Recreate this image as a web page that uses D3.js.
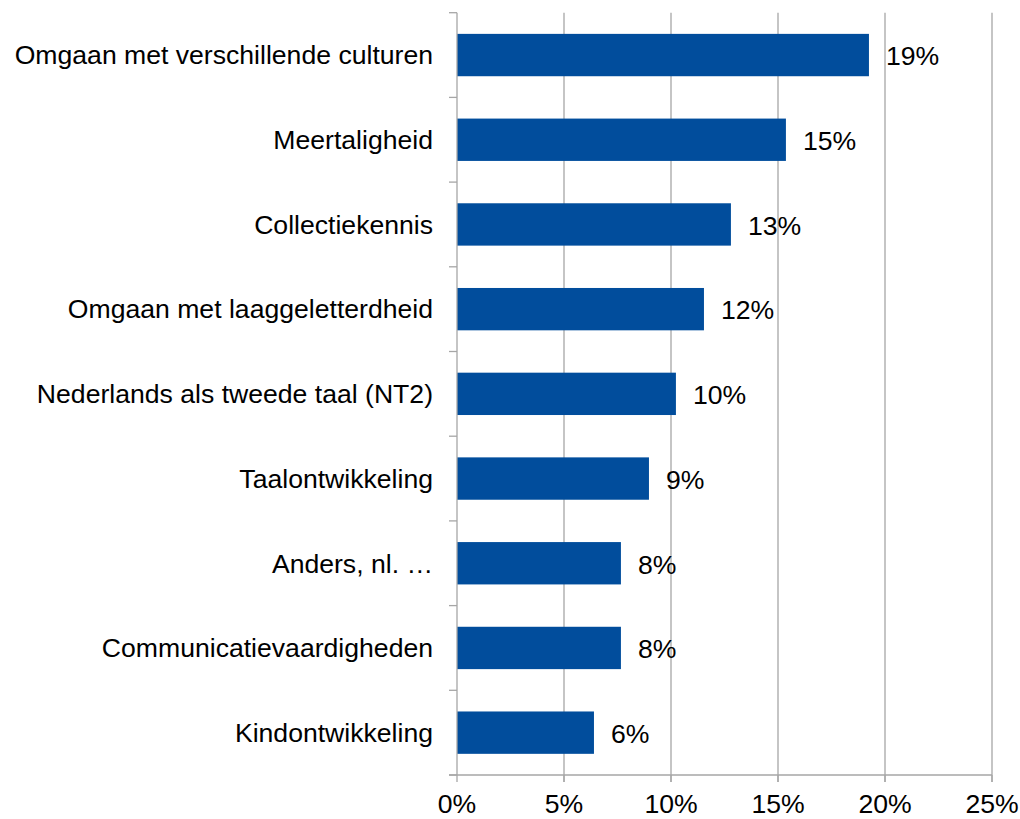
<!DOCTYPE html>
<html><head><meta charset="utf-8">
<script src="https://cdn.jsdelivr.net/npm/d3@7"></script>
<style>body{margin:0;background:#fff;} svg{display:block;font-family:"Liberation Sans",Arial,sans-serif;}</style>
</head><body>
<svg id="c" width="1020" height="819"></svg>
<script>
const categories = ["Omgaan met verschillende culturen","Meertaligheid","Collectiekennis","Omgaan met laaggeletterdheid","Nederlands als tweede taal (NT2)","Taalontwikkeling","Anders, nl. …","Communicatievaardigheden","Kindontwikkeling"];
const values = [19.25, 15.37, 12.8, 11.54, 10.23, 8.97, 7.66, 7.66, 6.4];
const valueLabels = ["19%","15%","13%","12%","10%","9%","8%","8%","6%"];
const xTicks = [0,5,10,15,20,25];

const svg = d3.select("#c");
const m = {left:457, right:992, top:12.7, bottom:775};
const x = d3.scaleLinear().domain([0,25]).range([m.left, m.right]);
const y = d3.scaleBand().domain(categories).range([m.top, m.bottom]).paddingInner(0.5).paddingOuter(0.25);
const yOuter = d3.scaleBand().domain(categories).range([m.top, m.bottom]);
const FS = 26.6;

// gridlines
svg.append("g").selectAll("line").data(xTicks.slice(1)).join("line")
  .attr("x1", d=>x(d)).attr("x2", d=>x(d)).attr("y1", m.top).attr("y2", m.bottom+7)
  .attr("stroke","#a6a6a6").attr("stroke-width",1.3);

// bars
svg.append("g").selectAll("rect").data(values).join("rect")
  .attr("x", x(0)).attr("y", (d,i)=>y(categories[i]))
  .attr("width", d=>x(d)-x(0)).attr("height", y.bandwidth())
  .attr("fill","#014d9c");

// left axis
const ya = svg.append("g");
ya.append("line").attr("x1",m.left).attr("x2",m.left).attr("y1",m.top).attr("y2",m.bottom).attr("stroke","#a6a6a6").attr("stroke-width",1.3);
const bounds = categories.map(c=>yOuter(c)).concat([m.bottom]);
ya.selectAll("line.t").data(bounds).join("line").attr("class","t")
  .attr("x1",m.left-8).attr("x2",m.left).attr("y1",d=>d).attr("y2",d=>d)
  .attr("stroke","#a6a6a6").attr("stroke-width",1.3);
ya.selectAll("text").data(categories).join("text")
  .attr("x", m.left-24).attr("y", d=>yOuter(d)+yOuter.bandwidth()/2)
  .attr("dy","0.35em").attr("text-anchor","end").attr("font-size",FS).attr("fill","#000")
  .text(d=>d);

// bottom axis
const xa = svg.append("g");
xa.append("line").attr("x1",m.left-8).attr("x2",m.right).attr("y1",m.bottom).attr("y2",m.bottom).attr("stroke","#a6a6a6").attr("stroke-width",1.3);
xa.selectAll("line.t").data(xTicks).join("line").attr("class","t")
  .attr("x1",d=>x(d)).attr("x2",d=>x(d)).attr("y1",m.bottom).attr("y2",m.bottom+7)
  .attr("stroke","#a6a6a6").attr("stroke-width",1.3);
xa.selectAll("text").data(xTicks).join("text")
  .attr("x",d=>x(d)).attr("y",804).attr("dy","0.35em").attr("text-anchor","middle")
  .attr("font-size",FS).attr("fill","#000").text(d=>d+"%");

// value labels
svg.append("g").selectAll("text").data(values).join("text")
  .attr("x", d=>x(d)+17).attr("y",(d,i)=>y(categories[i])+y.bandwidth()/2+1)
  .attr("dy","0.35em").attr("font-size",FS).attr("fill","#000")
  .text((d,i)=>valueLabels[i]);
</script>
</body></html>
